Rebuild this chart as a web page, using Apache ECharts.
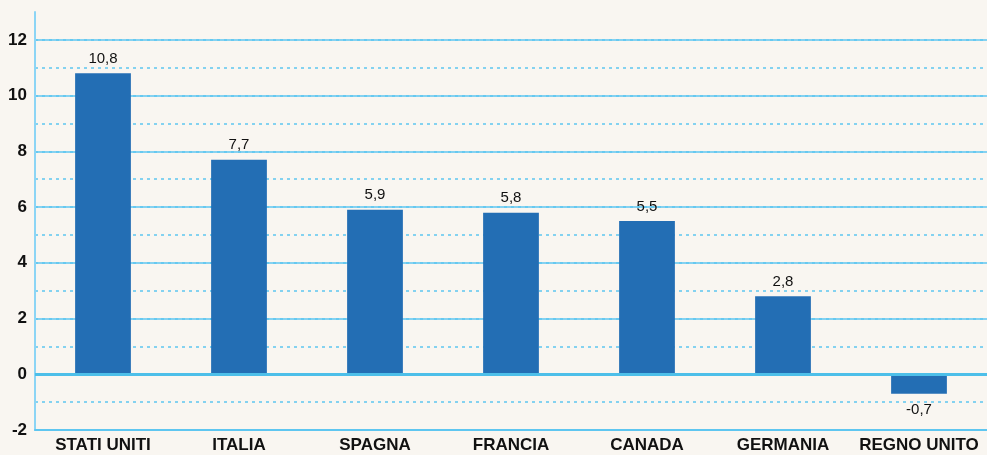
<!DOCTYPE html>
<html>
<head>
<meta charset="utf-8">
<script src="https://cdn.jsdelivr.net/npm/echarts@6/dist/echarts.min.js"></script>
<style>
  html, body { margin: 0; padding: 0; background: #f9f6f1; }
  #chart { width: 987px; height: 455px; }
</style>
</head>
<body>
<div id="chart"></div>
<script>
const categories = ['STATI UNITI', 'ITALIA', 'SPAGNA', 'FRANCIA', 'CANADA', 'GERMANIA', 'REGNO UNITO'];
const values = [10.8, 7.7, 5.9, 5.8, 5.5, 2.8, -0.7];
const yMin = -2;
const yMax = 13;

const chart = echarts.init(document.getElementById('chart'));

// negative values get their label below the bar
const barData = values.map(function (v) {
  if (v < 0) {
    return { value: v, label: { position: 'bottom', distance: 9 } };
  }
  return v;
});

const option = {
  animation: false,
  backgroundColor: '#f9f6f1',
  textStyle: { fontFamily: 'Liberation Sans, Arial, sans-serif' },
  grid: { left: 35, right: 0, top: 12, bottom: 25, containLabel: false },
  xAxis: {
    type: 'category',
    data: categories,
    axisLine: { onZero: false, lineStyle: { color: '#5ec6f0', width: 2 } },
    axisTick: { show: false },
    axisLabel: { interval: 0, color: '#111', fontWeight: 'bold', fontSize: 17, margin: 7 }
  },
  yAxis: [
    {
      type: 'value',
      min: yMin,
      max: yMax,
      interval: 2,
      axisLine: { show: true, lineStyle: { color: '#8cd5f5', width: 2 } },
      axisTick: { show: false },
      axisLabel: {
        color: '#111', fontWeight: 'bold', fontSize: 17, margin: 8,
        showMaxLabel: false
      },
      splitLine: {
        show: true,
        showMaxLine: false,
        lineStyle: { color: '#5ec6f0', width: 1.5, type: 'solid' }
      }
    },
    {
      type: 'value',
      min: yMin,
      max: yMax,
      interval: 1,
      axisLine: { show: false },
      axisTick: { show: false },
      axisLabel: { show: false },
      splitLine: {
        show: true,
        showMaxLine: false,
        lineStyle: { color: '#5ec6f0', width: 1.5, type: [3, 4] }
      }
    }
  ],
  series: [
    {
      type: 'bar',
      data: barData,
      barWidth: '41%',
      itemStyle: { color: '#236eb4' },
      label: {
        show: true,
        position: 'top',
        distance: 7,
        color: '#111',
        fontSize: 15,
        formatter: function (p) { return String(p.value).replace('.', ','); }
      },
      markLine: {
        silent: true,
        symbol: 'none',
        label: { show: false },
        lineStyle: { color: '#4dbfe9', width: 3, type: 'solid' },
        data: [{ yAxis: 0 }]
      }
    }
  ]
};

chart.setOption(option);
</script>
</body>
</html>
